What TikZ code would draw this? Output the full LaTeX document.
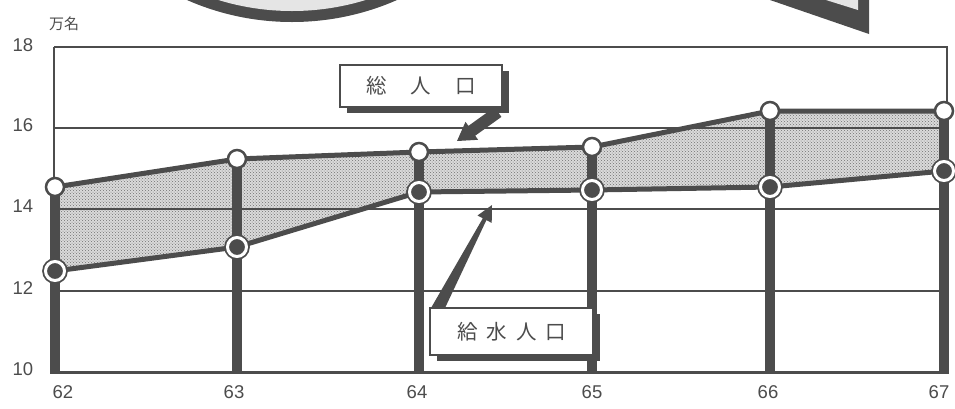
\documentclass[tikz,border=0pt]{standalone}
\usepackage{fontspec}
\setmainfont{Liberation Sans}
\newfontfamily\cjk{Noto Sans CJK JP}
\usetikzlibrary{backgrounds, shadows, patterns}

\definecolor{ink}{HTML}{4C4C4C}
\definecolor{stipple}{HTML}{DADADA}

\tikzset{
  tick/.style={text=ink, font=\fontsize{18.5}{20}\selectfont, inner sep=0pt},
  unitlabel/.style={text=ink, font=\cjk\fontsize{15}{17}\selectfont, inner sep=0pt},
  totaldot/.style={circle, draw=ink, line width=2.5pt, fill=white, minimum size=18pt, inner sep=0pt},
  supplydot/.style={circle, draw=ink, fill=ink, line width=1.8pt, double=white, double distance=3pt, minimum size=19pt, inner sep=0pt},
  trend/.style={ink, line width=5pt, line join=round},
  bar/.style={ink, line width=10pt},
  grid/.style={ink, line width=1.3pt},
  labelbox/.style={draw=ink, line width=1.5pt, fill=white, text=ink, font=\cjk\fontsize{20.5}{22}\selectfont,
    drop shadow={shadow xshift=7pt, shadow yshift=-6pt, fill=ink, opacity=1}}
}

\begin{document}
\begin{tikzpicture}[x=1pt, y=-1pt]
\useasboundingbox (0,0) rectangle (955,408);

% cut-off pieces of the illustration above the chart
\begin{scope}
  \clip (0,0) rectangle (955,408);
  \fill[ink] (292,-239) circle (261);
  \fill[gray!20] (292,-239) circle (250);
  \fill[ink] (770,0) -- (869,0) -- (869,34) -- cycle;
  \fill[gray!20] (826,0) -- (858,0) -- (858,10) -- cycle;
\end{scope}

% axis labels
\node[unitlabel] (unit) at (64,24) {万名};
\foreach \v/\py in {18/45,16/125,14/206,12/288,10/369}
  \node[tick] (y\v) at (23,\py) {\v};

% data points (x, total, supply)
\foreach \yr/\px/\pu/\pw/\lx in {62/55/187/271/63, 63/237/159/247/234, 64/419/152/192/417,
                                 65/592/147/190/592, 66/770/111/187/768, 67/944/111/171/939}{
  \coordinate (b\yr) at (\px,372);
  \node[supplydot] (w\yr) at (\px,\pw) {};
  \node[totaldot] (u\yr) at (\px,\pu) {};
  \node[tick] (x\yr) at (\lx,392) {\yr};
}

\begin{scope}[on background layer]
  \fill[stipple] (u62.center) -- (u63.center) -- (u64.center) -- (u65.center) -- (u66.center) -- (u67.center)
    -- (w67.center) -- (w66.center) -- (w65.center) -- (w64.center) -- (w63.center) -- (w62.center) -- cycle;
  \fill[pattern=crosshatch dots, pattern color=ink!80] (u62.center) -- (u63.center) -- (u64.center) -- (u65.center) -- (u66.center) -- (u67.center)
    -- (w67.center) -- (w66.center) -- (w65.center) -- (w64.center) -- (w63.center) -- (w62.center) -- cycle;
  % frame and grid
  \draw[grid] (54,47) -- (947,47) -- (947,372);
  \draw[grid] (54,47) -- (54,372);
  \foreach \py in {128,209,291}
    \draw[grid] (54,\py) -- (947,\py);
  \draw[ink, line width=3pt] (50,372) -- (949,372);
  % bars
  \foreach \yr in {62,63,64,65,66,67}
    \draw[bar] (b\yr) -- (u\yr.center);
  % lines
  \draw[trend] (u62.center) -- (u63.center) -- (u64.center) -- (u65.center) -- (u66.center) -- (u67.center);
  \draw[trend] (w62.center) -- (w63.center) -- (w64.center) -- (w65.center) -- (w66.center) -- (w67.center);
\end{scope}

% labels
\coordinate (totaltip) at (457,141);
\fill[ink] (494.6,107.1) -- (468.4,125.9) -- (465.5,121.8) -- (totaltip) -- (478.1,139.8) -- (475.2,135.7) -- (501.4,116.9) -- cycle;
\node[labelbox, minimum width=162pt, minimum height=42pt] (totalbox) at (421,86) {総\hspace{24pt}人\hspace{24pt}口};

\coordinate (supplytip) at (492,205);
\fill[ink] (431,308) -- (482.8,218.3) -- (477.5,215.5) -- (supplytip) -- (491.7,222.9) -- (486.4,220.1) -- (445,308) -- cycle;
\node[labelbox, minimum width=163pt, minimum height=47pt] (supplybox) at (511.5,331.5) {給\hspace{9pt}水\hspace{9pt}人\hspace{9pt}口};

\end{tikzpicture}
\end{document}
